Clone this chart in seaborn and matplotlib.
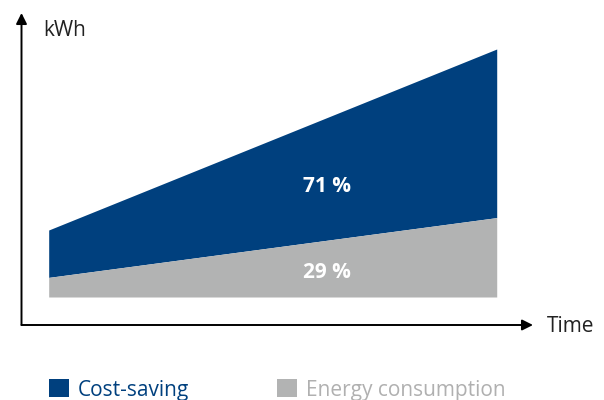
import matplotlib
matplotlib.use("Agg")
import matplotlib.pyplot as plt
import seaborn as sns
import pandas as pd
from matplotlib.patches import Patch

# Data (arbitrary kWh units)
time = [0, 10]
baseline = [1.4, 1.4]
energy_consumption = [2.38, 5.37]   # top of grey area
total_without_saving = [4.75, 13.8] # top of blue area
series_names = ["Cost-saving", "Energy consumption"]
share_labels = ["71 %", "29 %"]

blue = "#00407e"
grey = "#b2b3b3"

sns.set_theme(style="white")
plt.rcParams["font.family"] = ["Open Sans", "DejaVu Sans"]

df = pd.DataFrame({"time": time, "base": baseline,
                   "energy": energy_consumption, "total": total_without_saving})

fig = plt.figure(figsize=(6.04, 4.00), dpi=100)
ax = fig.add_axes([21.5 / 604, 75 / 400, (533 - 21.5) / 604, (325 - 13) / 400])

sns.lineplot(data=df, x="time", y="total", ax=ax, color=blue, linewidth=0)
sns.lineplot(data=df, x="time", y="energy", ax=ax, color=grey, linewidth=0)
ax.fill_between(df["time"], df["energy"], df["total"], color=blue, linewidth=0)
ax.fill_between(df["time"], df["base"], df["energy"], color=grey, linewidth=0)

ax.set_xlim(-0.607, 10.81)
ax.set_ylim(0, 15.6)
for s in ax.spines.values():
    s.set_visible(False)
ax.set_xticks([])
ax.set_yticks([])
ax.set_xlabel("")
ax.set_ylabel("")

# Axis arrows
arrow = dict(arrowstyle="-|>", color="black", lw=1.4, mutation_scale=16,
             shrinkA=0, shrinkB=0)
ax.annotate("", xy=(0, 1), xytext=(0, 0), xycoords="axes fraction",
            textcoords="axes fraction", arrowprops=arrow)
ax.annotate("", xy=(1, 0), xytext=(0, 0), xycoords="axes fraction",
            textcoords="axes fraction", arrowprops=arrow)

fig.text(43 / 604, 1 - 31 / 400, "kWh", fontsize=15, color="#222222",
         ha="left", va="center")
fig.text(547 / 604, 1 - 326 / 400, "Time", fontsize=15, color="#222222",
         ha="left", va="center")

# Share labels
ax.text(6.21, (325 - 187) / 20, share_labels[0], color="white", fontsize=15,
        fontweight="bold", ha="center", va="center")
ax.text(6.21, (325 - 272) / 20, share_labels[1], color="white", fontsize=15,
        fontweight="bold", ha="center", va="center")

handles = [Patch(facecolor=blue, edgecolor="none"),
           Patch(facecolor=grey, edgecolor="none")]
fig.legend(handles, series_names, loc="center left",
           bbox_to_anchor=(49 / 604, 1 - 390 / 400), ncol=2, frameon=False,
           fontsize=15, handlelength=0.95, handleheight=0.95,
           handletextpad=0.42, columnspacing=4.25, borderpad=0,
           borderaxespad=0, labelcolor=[blue, "#b0b0b0"])

fig.savefig("out.png", dpi=100)
